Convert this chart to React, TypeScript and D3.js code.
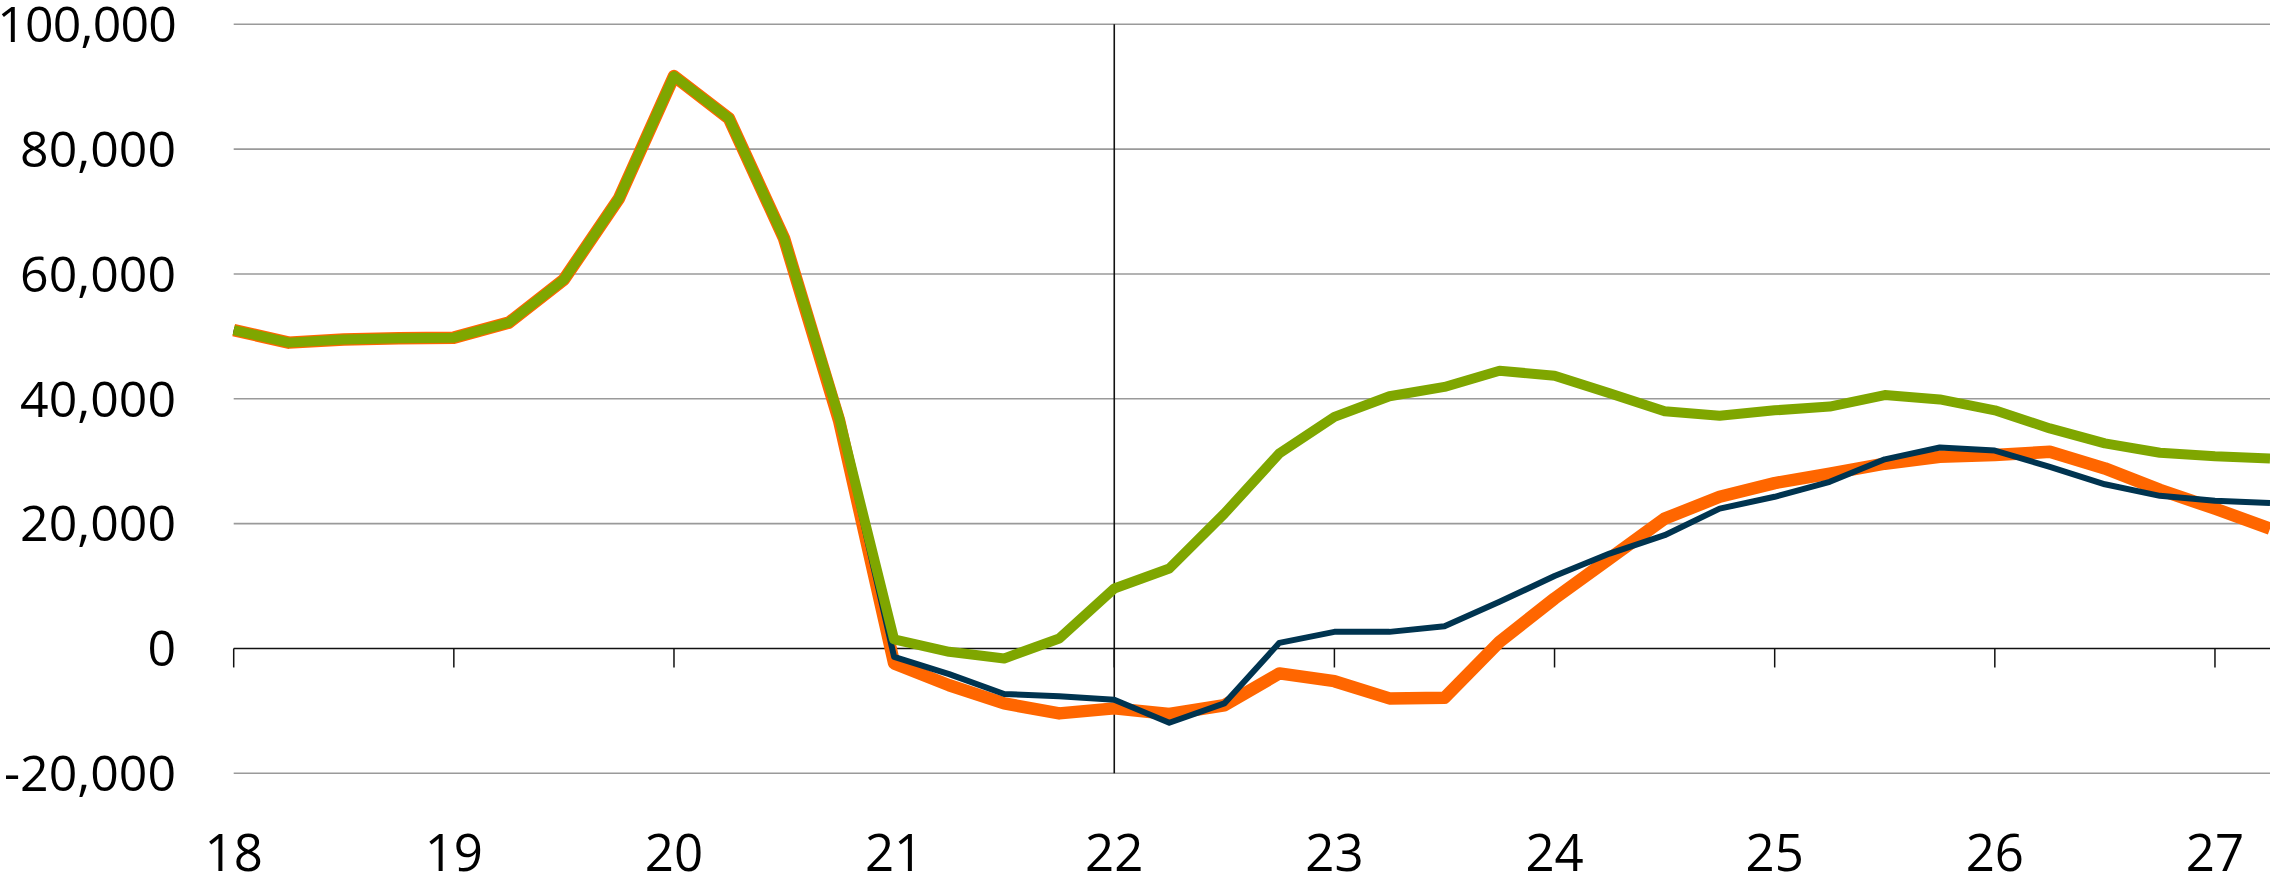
import React from 'react';
import * as d3 from 'd3';

const W = 2270;
const H = 878;

// quarterly periods, 18 = 2018Q1 ... 27.25 = 2027Q2
const periods = [
  18, 18.25, 18.5, 18.75, 19, 19.25, 19.5, 19.75, 20, 20.25, 20.5, 20.75,
  21, 21.25, 21.5, 21.75, 22, 22.25, 22.5, 22.75, 23, 23.25, 23.5, 23.75,
  24, 24.25, 24.5, 24.75, 25, 25.25, 25.5, 25.75, 26, 26.25, 26.5, 26.75,
  27, 27.25,
];

const orange = [
  51000, 49000, 49500, 49700, 49800, 52200, 59100, 72100, 91700, 84900, 65700, 36500,
  -2400, -5900, -8800, -10400, -9600, -10500, -9100, -4000, -5240, -8000, -7900, 1060,
  8000, 14400, 20800, 24300, 26500, 28000, 29600, 30700, 31000, 31500, 28850, 25400,
  22400, 19200,
];

const navy = [
  51000, 49000, 49500, 49700, 49800, 52200, 59100, 72100, 91700, 84900, 65700, 37000,
  -1340, -4100, -7300, -7650, -8200, -11900, -8800, 900, 2660, 2660, 3570, 7470,
  11600, 15200, 18150, 22400, 24300, 26700, 30300, 32200, 31700, 29100, 26300, 24450,
  23650, 23300,
];

const green = [
  51000, 49000, 49500, 49700, 49800, 52200, 59100, 72100, 91700, 84900, 65700, 37000,
  1440, -540, -1600, 1600, 9600, 12800, 21600, 31250, 37100, 40400, 41900, 44500,
  43700, 40900, 38000, 37300, 38150, 38750, 40600, 39900, 38150, 35250, 32850, 31350,
  30800, 30450,
];

const yTicks = [-20000, 0, 20000, 40000, 60000, 80000, 100000];
const xTicks = [18, 19, 20, 21, 22, 23, 24, 25, 26, 27];
const markerYear = 22;

const series = [
  { name: 'orange', values: orange, color: '#ff6600', width: 12.5 },
  { name: 'navy', values: navy, color: '#003450', width: 6 },
  { name: 'green', values: green, color: '#7fa600', width: 10 },
];

const margin = { left: 233.7, right: 0, top: 24.3, bottom: 104.7 };

export default function App() {
  const x = d3.scaleLinear().domain([18, 27.25]).range([margin.left, W - margin.right]);
  const y = d3.scaleLinear().domain([-20000, 100000]).range([H - margin.bottom, margin.top]);
  const fmt = (v: number) => d3.format(',')(v).replace('\u2212', '-');
  const fs = 50;

  const line = (vals: number[]) =>
    d3
      .line<number>()
      .x((_, i) => x(periods[i]))
      .y((d) => y(d))(vals) as string;

  return (
    <svg
      width={W}
      height={H}
      style={{ position: 'absolute', left: 0, top: 0, background: '#fff' }}
      fontFamily="'Open Sans', sans-serif"
    >
      {yTicks.map((t) => (
        <g key={t}>
          <line
            x1={margin.left}
            x2={W}
            y1={y(t)}
            y2={y(t)}
            stroke={t === 0 ? '#111' : '#9a9a9a'}
            strokeWidth={1.6}
          />
          <text
            x={176}
            y={y(t) + fs * 0.357}
            textAnchor="end"
            fontSize={fs}
            letterSpacing={t >= 100000 ? -0.8 : 0}
            fill="#000"
          >
            {fmt(t)}
          </text>
        </g>
      ))}
      {xTicks.map((t) => (
        <g key={t}>
          <line x1={x(t)} x2={x(t)} y1={y(0)} y2={y(0) + 19} stroke="#111" strokeWidth={1.5} />
          <text x={x(t)} y={871} textAnchor="middle" fontSize={fs + 1} fill="#000">
            {t}
          </text>
        </g>
      ))}
      <line
        x1={x(markerYear)}
        x2={x(markerYear)}
        y1={y(100000)}
        y2={y(-20000)}
        stroke="#111"
        strokeWidth={1.6}
      />
      {series.map((s) => (
        <path
          key={s.name}
          d={line(s.values)}
          fill="none"
          stroke={s.color}
          strokeWidth={s.width}
          strokeLinejoin="round"
        />
      ))}
    </svg>
  );
}
